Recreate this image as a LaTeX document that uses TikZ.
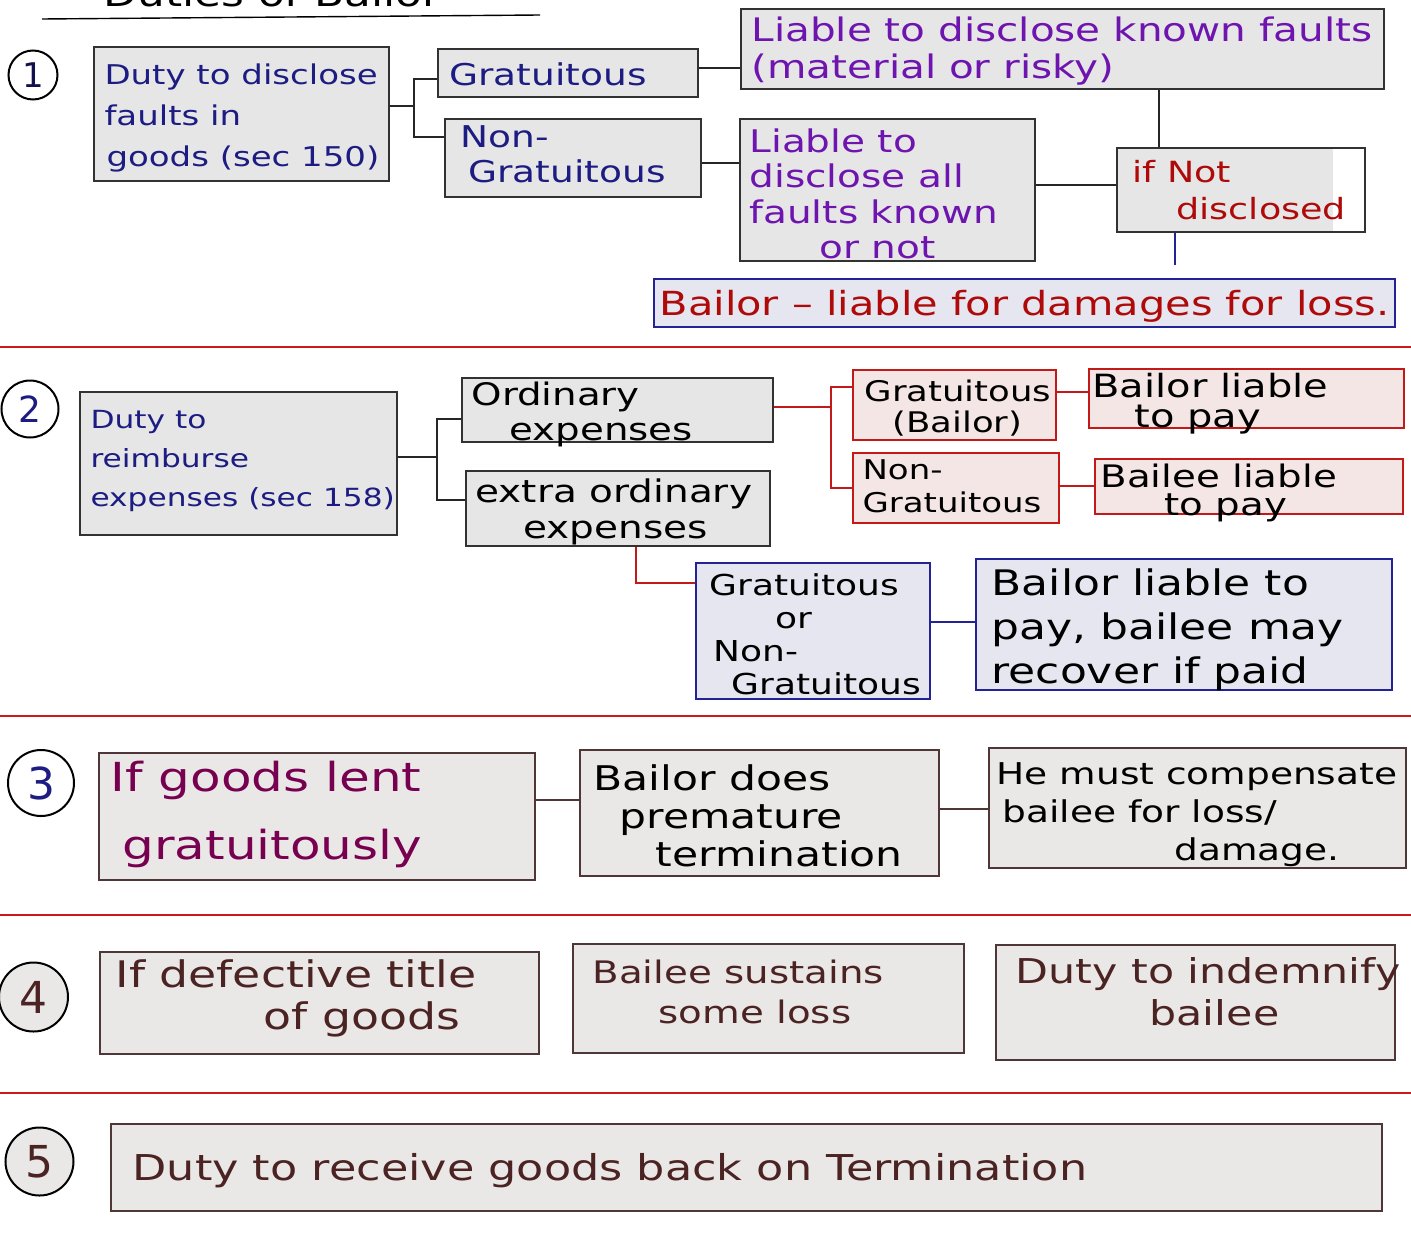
\documentclass[tikz,border=0pt]{standalone}
\usepackage{fontspec}
\setmainfont{DejaVu Sans}[FakeStretch=1.25]
\newfontfamily\numfont{DejaVu Sans}
\usetikzlibrary{fit}
\definecolor{navy}{RGB}{28,28,130}
\definecolor{purp}{RGB}{110,20,175}
\definecolor{dred}{RGB}{175,10,10}
\definecolor{maroon}{RGB}{120,0,80}
\definecolor{dbrown}{RGB}{75,35,35}
\definecolor{bordgray}{RGB}{50,50,50}
\definecolor{fillgray}{RGB}{230,230,230}
\definecolor{lav}{RGB}{230,230,241}
\definecolor{lavb}{RGB}{35,35,150}
\definecolor{pinkf}{RGB}{245,230,230}
\definecolor{redb}{RGB}{195,25,25}
\definecolor{warmf}{RGB}{234,232,230}
\definecolor{brownb}{RGB}{80,55,55}
\definecolor{sepred}{RGB}{205,25,25}
\newcommand\BoxT[9]{%
  \node[#6, fit={(#2,#3) (#4,#5)}] (#1) {};
  \node[#7] (#1t) at ([shift={(#8)}]#1.north west) {#9};}
\tikzset{
  gbox/.style={draw=bordgray, fill=fillgray, line width=0.9pt, inner sep=0pt},
  obox/.style={draw=bordgray, line width=0.9pt, inner sep=0pt},
  lbox/.style={draw=lavb, fill=lav, line width=0.8pt, inner sep=0pt},
  pbox/.style={draw=redb, fill=pinkf, line width=0.9pt, inner sep=0pt},
  wbox/.style={draw=brownb, fill=warmf, line width=0.8pt, inner sep=0pt},
  txt/.style={anchor=north west, inner sep=0pt, align=left},
  conn/.style={line width=0.7pt, draw=black!85},
  rconn/.style={line width=0.7pt, draw=redb},
  nconn/.style={line width=0.6pt, draw=lavb},
  bconn/.style={line width=0.8pt, draw=brownb},
  sep/.style={line width=0.9pt, draw=sepred},
  numc/.style={circle, draw=black, line width=1pt, inner sep=0pt, fill=white},
}
\begin{document}
\begin{tikzpicture}[x=0.5pt,y=-0.5pt]
\useasboundingbox (0,0) rectangle (1411,1241);
% title
\node[anchor=base, inner sep=0pt, font=\fontsize{17.5}{17.5}\selectfont] (title) at (272,7) {Duties of Bailor};
\draw[line width=0.7pt] (42,19) -- (540,15);
% separators
\draw[sep] (0,347) -- (1411,347);
\draw[sep] (0,716) -- (1411,716);
\draw[sep] (0,915) -- (1411,915);
\draw[sep] (0,1093) -- (1411,1093);
% number circles
\node[numc, minimum size=24.5pt, text=navy!60!black, font=\numfont\fontsize{17}{17}\selectfont] (c1) at (33,75) {1};
\node[numc, minimum size=28.5pt, text=navy, font=\numfont\fontsize{18}{18}\selectfont] (c2) at (30,409) {2};
\node[numc, minimum size=33pt, text=navy, font=\numfont\fontsize{22}{22}\selectfont] (c3) at (41,783) {3};
\node[numc, minimum size=34.5pt, fill=warmf, text=dbrown, font=\numfont\fontsize{22}{22}\selectfont] (c4) at (33.5,997) {4};
\node[numc, minimum size=34pt, fill=warmf, text=dbrown, font=\numfont\fontsize{22}{22}\selectfont] (c5) at (39.5,1161.5) {5};
% section 1
\BoxT{A1}{94}{47}{389}{181}{gbox}{txt,text=navy,font=\fontsize{13.6}{20.5}\selectfont}{5.5pt,-8.5pt}{Duty to disclose\\faults in\\\hspace*{1pt}goods (sec 150)}
\BoxT{G1}{438}{49}{698}{97}{gbox}{txt,text=navy,font=\fontsize{15}{20}\selectfont}{6pt,-7pt}{Gratuitous}
\BoxT{NG1}{445}{119}{701}{197}{gbox}{txt,text=navy,font=\fontsize{15}{17.5}\selectfont}{8pt,-3.5pt}{Non-\\\hspace*{4pt}Gratuitous}
\BoxT{LK}{741}{9}{1384}{89}{gbox}{txt,text=purp,font=\fontsize{16.2}{18.5}\selectfont}{5.5pt,-4pt}{Liable to disclose known faults\\(material or risky)}
\BoxT{LA}{740}{119}{1035}{261}{gbox}{txt,text=purp,font=\fontsize{15.6}{17.7}\selectfont}{5pt,-5pt}{Liable to\\disclose all\\faults known\\\hspace*{35pt}or not}
\fill[fillgray] (1117,148) rectangle (1333,232);
\BoxT{IF}{1117}{148}{1365}{232}{obox}{txt,text=dred,font=\fontsize{14.6}{18.5}\selectfont}{8pt,-6.5pt}{if Not\\\hspace*{22pt}disclosed}
\BoxT{BL}{654}{279}{1395}{327}{lbox}{txt,text=dred,font=\fontsize{16.6}{17}\selectfont}{3pt,-6pt}{Bailor – liable for damages for loss.}
\coordinate (j1m) at (414,106);
\coordinate (j1a) at (414,79);
\coordinate (j1b) at (414,137);
\draw[conn] (A1.east |- j1m) -- (j1m);
\draw[conn] (G1.west |- j1a) -- (j1a) -- (j1b) -- (NG1.west |- j1b);
\coordinate (h1) at (720,68);
\draw[conn] (G1.east |- h1) -- (LK.west |- h1);
\coordinate (h2) at (720,163);
\draw[conn] (NG1.east |- h2) -- (LA.west |- h2);
\coordinate (v1) at (1159,120);
\draw[conn] (v1 |- LK.south) -- (v1 |- IF.north);
\coordinate (h3) at (1080,185);
\draw[conn] (LA.east |- h3) -- (IF.west |- h3);
\coordinate (v2) at (1175,265);
\draw[nconn] (v2 |- IF.south) -- (v2);
% section 2
\BoxT{A2}{80}{392}{397}{535}{gbox}{txt,text=navy,font=\fontsize{12.5}{19.5}\selectfont}{5.5pt,-9.5pt}{Duty to\\reimburse\\expenses (sec 158)}
\BoxT{OE}{462}{378}{773}{442}{gbox}{txt,text=black,font=\fontsize{15.5}{17.5}\selectfont}{5pt,-2pt}{Ordinary\\\hspace*{19pt}expenses}
\BoxT{EE}{466}{471}{770}{546}{gbox}{txt,text=black,font=\fontsize{15.6}{18}\selectfont}{5pt,-4pt}{extra ordinary\\\hspace*{24pt}expenses}
\BoxT{GB}{853}{370}{1056}{440}{pbox}{txt,text=black,font=\fontsize{14.2}{15.5}\selectfont}{6pt,-5pt}{Gratuitous\\\hspace*{14pt}(Bailor)}
\BoxT{NG2}{853}{453}{1059}{523}{pbox}{txt,text=black,font=\fontsize{13.6}{16.5}\selectfont}{5pt,-3.5pt}{Non-\\Gratuitous}
\BoxT{BP}{1089}{369}{1404}{428}{pbox}{txt,text=black,font=\fontsize{16}{15}\selectfont}{2pt,-2.5pt}{Bailor liable\\\hspace*{21pt}to pay}
\BoxT{EP}{1095}{459}{1403}{514}{pbox}{txt,text=black,font=\fontsize{15.5}{14}\selectfont}{3pt,-2.5pt}{Bailee liable\\\hspace*{32pt}to pay}
\BoxT{GO}{696}{563}{930}{699}{lbox}{txt,text=black,font=\fontsize{14.4}{16.5}\selectfont}{7pt,-5.5pt}{Gratuitous\\\hspace*{33pt}or\\\hspace*{2pt}Non-\\\hspace*{11pt}Gratuitous}
\BoxT{BR}{976}{559}{1392}{690}{lbox}{txt,text=black,font=\fontsize{17.6}{22}\selectfont}{8pt,-5pt}{Bailor liable to\\pay, bailee may\\recover if paid}
\coordinate (j2m) at (437,457);
\coordinate (j2a) at (437,419);
\coordinate (j2b) at (437,500);
\draw[conn] (A2.east |- j2m) -- (j2m);
\draw[conn] (OE.west |- j2a) -- (j2a) -- (j2b) -- (EE.west |- j2b);
\coordinate (j3m) at (831,407);
\coordinate (j3a) at (831,387);
\coordinate (j3b) at (831,488);
\draw[rconn] (OE.east |- j3m) -- (j3m);
\draw[rconn] (GB.west |- j3a) -- (j3a) -- (j3b) -- (NG2.west |- j3b);
\coordinate (h4) at (1070,392);
\draw[rconn] (GB.east |- h4) -- (BP.west |- h4);
\coordinate (h5) at (1075,486);
\draw[rconn] (NG2.east |- h5) -- (EP.west |- h5);
\coordinate (k1) at (636,583);
\draw[rconn] (k1 |- EE.south) -- (k1) -- (GO.west |- k1);
\coordinate (h6) at (950,622);
\draw[nconn] (GO.east |- h6) -- (BR.west |- h6);
% section 3
\BoxT{A3}{99}{753}{535}{880}{wbox}{txt,text=maroon,font=\fontsize{20}{34}\selectfont}{6pt,-4pt}{If goods lent\\\hspace*{6pt}gratuitously}
\BoxT{PT}{580}{750}{939}{876}{wbox}{txt,text=black,font=\fontsize{17}{19}\selectfont}{7pt,-7.5pt}{Bailor does\\\hspace*{13pt}premature\\\hspace*{31pt}termination}
\BoxT{HC}{989}{748}{1406}{868}{wbox}{txt,text=black,font=\fontsize{15}{19}\selectfont}{4pt,-7.5pt}{He must compensate\\\hspace*{3pt}bailee for loss/\\\hspace*{89pt}damage.}
\coordinate (h7) at (560,800);
\draw[bconn] (A3.east |- h7) -- (PT.west |- h7);
\coordinate (h8) at (965,809);
\draw[bconn] (PT.east |- h8) -- (HC.west |- h8);
% section 4
\BoxT{A4}{100}{952}{539}{1054}{wbox}{txt,text=dbrown,font=\fontsize{18.3}{21}\selectfont}{8pt,-4pt}{If defective title\\\hspace*{74pt}of goods}
\BoxT{BS}{573}{944}{964}{1053}{wbox}{txt,text=dbrown,font=\fontsize{15.5}{20}\selectfont}{10pt,-8pt}{Bailee sustains\\\hspace*{33pt}some loss}
\BoxT{DI}{996}{945}{1395}{1060}{wbox}{txt,text=dbrown,font=\fontsize{17.1}{21}\selectfont}{10pt,-6.5pt}{Duty to indemnify\\\hspace*{67pt}bailee}
% section 5
\BoxT{A5}{111}{1124}{1382}{1211}{wbox}{txt,text=dbrown,font=\fontsize{17.8}{20}\selectfont}{11pt,-15pt}{Duty to receive goods back on Termination}
\end{tikzpicture}
\end{document}
